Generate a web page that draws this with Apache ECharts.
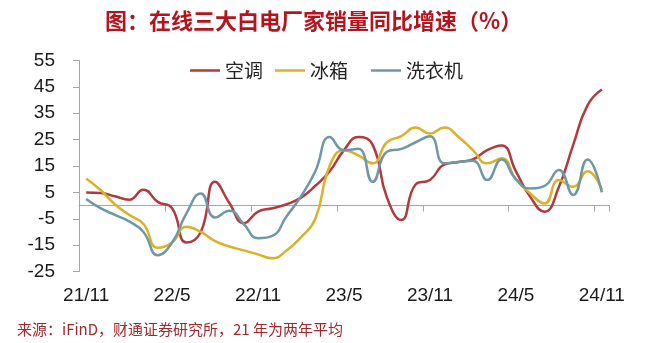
<!DOCTYPE html>
<html><head><meta charset="utf-8">
<script src="https://cdn.jsdelivr.net/npm/echarts@6/dist/echarts.min.js"></script>
<style>html,body{margin:0;padding:0;background:#fff}#c{width:660px;height:343px}</style>
</head><body><div id="c"></div>
<script>
const categories = ['21/11','21/12','22/1','22/2','22/3','22/4','22/5','22/6','22/7','22/8','22/9','22/10','22/11','22/12','23/1','23/2','23/3','23/4','23/5','23/6','23/7','23/8','23/9','23/10','23/11','23/12','24/1','24/2','24/3','24/4','24/5','24/6','24/7','24/8','24/9','24/10','24/11'];
const acData = [5, 4.8, 3.5, 2.2, 6, 1.4, -1, -14, -10, 9, 1, -6.7, -2.3, -1, 0.5, 3, 7.5, 13, 21, 26, 23, 3, -5.5, 8, 9.7, 15.5, 16.5, 17.5, 21, 22.8, 13, 3.3, -2.3, 7, 23, 38, 44];
const fridgeData = [10.3, 5.9, 0.5, -3.5, -7, -16, -14, -8, -10, -13.5, -15.5, -17, -18.5, -20, -17, -12, -5, 15, 21, 19, 16, 24, 26.3, 29.6, 27.3, 29.6, 26, 21, 16, 17.9, 10, 4.6, 0.8, 9.7, 7.1, 13, 6];
const washerData = [2.5, -1, -3.5, -6, -10, -18.8, -14, -3, 4.6, -4.5, -2, -7, -12.4, -11.5, -4, 3.5, 13, 26, 21, 21.5, 9, 20.4, 21.5, 24, 26.3, 16, 16.5, 17, 9.7, 17.5, 10, 6.5, 7.5, 13.5, 4, 17.5, 5];
const seriesNames = ['空调', '冰箱', '洗衣机'];
const yTicks = { min: -25, max: 55, step: 10 };
const titleText = '图：在线三大白电厂家销量同比增速（%）';
const sourceText = '来源：iFinD，财通证券研究所，21 年为两年平均';

const colors = ['#B03A3E', '#DDB02A', '#6E98A6'];
const axisColor = '#A6A6A6';
const chart = echarts.init(document.getElementById('c'), null, { renderer: 'canvas' });
const legendLeft = [185, 270, 366];
const allData = [acData, fridgeData, washerData];

chart.setOption({
  animation: false,
  backgroundColor: '#fff',
  grid: { left: 79, right: 51, top: 60.5, bottom: 71.5, containLabel: false, outerBoundsMode: 'none' },
  legend: seriesNames.map((n, i) => ({
    data: [n], left: legendLeft[i], top: 56, icon: 'rect',
    itemWidth: 30, itemHeight: 2.5, itemGap: 0,
    textStyle: { fontSize: 19, color: '#222', fontFamily: 'Noto Sans CJK SC' }
  })),
  xAxis: [{
    type: 'category', data: categories, boundaryGap: true, position: 'bottom',
    axisLine: { onZero: true, lineStyle: { color: axisColor, width: 1 } },
    axisTick: { show: true, interval: 5, length: 6, lineStyle: { color: axisColor } },
    axisLabel: { show: false },
    splitLine: { show: false }
  }, {
    type: 'category', data: categories, boundaryGap: true, position: 'bottom', offset: 0,
    axisLine: { show: false, onZero: false },
    axisTick: { show: false },
    axisLabel: { interval: 5, margin: 15, fontSize: 19, color: '#1a1a1a', fontFamily: 'Liberation Sans' },
    splitLine: { show: false }
  }],
  yAxis: {
    type: 'value', min: yTicks.min, max: yTicks.max, interval: yTicks.step,
    axisLine: { show: true, lineStyle: { color: axisColor, width: 1 } },
    axisTick: { show: true, length: 6, lineStyle: { color: axisColor } },
    axisLabel: { fontSize: 19, color: '#1a1a1a', margin: 24, fontFamily: 'Liberation Sans' },
    splitLine: { show: false }
  },
  series: seriesNames.map((n, i) => ({
    name: n, type: 'line', data: allData[i], smooth: 0.5, symbol: 'none', xAxisIndex: 0,
    lineStyle: { color: colors[i], width: 2.5 }, itemStyle: { color: colors[i] }
  })),
  graphic: [
    { type: 'text', style: { text: titleText, x: 105, y: 21, verticalAlign: 'middle',
      font: 'bold 22px "Noto Sans CJK SC"', fill: '#B4141E' } },
    { type: 'text', style: { text: sourceText, x: 17, y: 329, verticalAlign: 'middle',
      font: '15px "Noto Sans CJK SC"', fill: '#A0282D' } }
  ]
});
</script>
</body></html>
